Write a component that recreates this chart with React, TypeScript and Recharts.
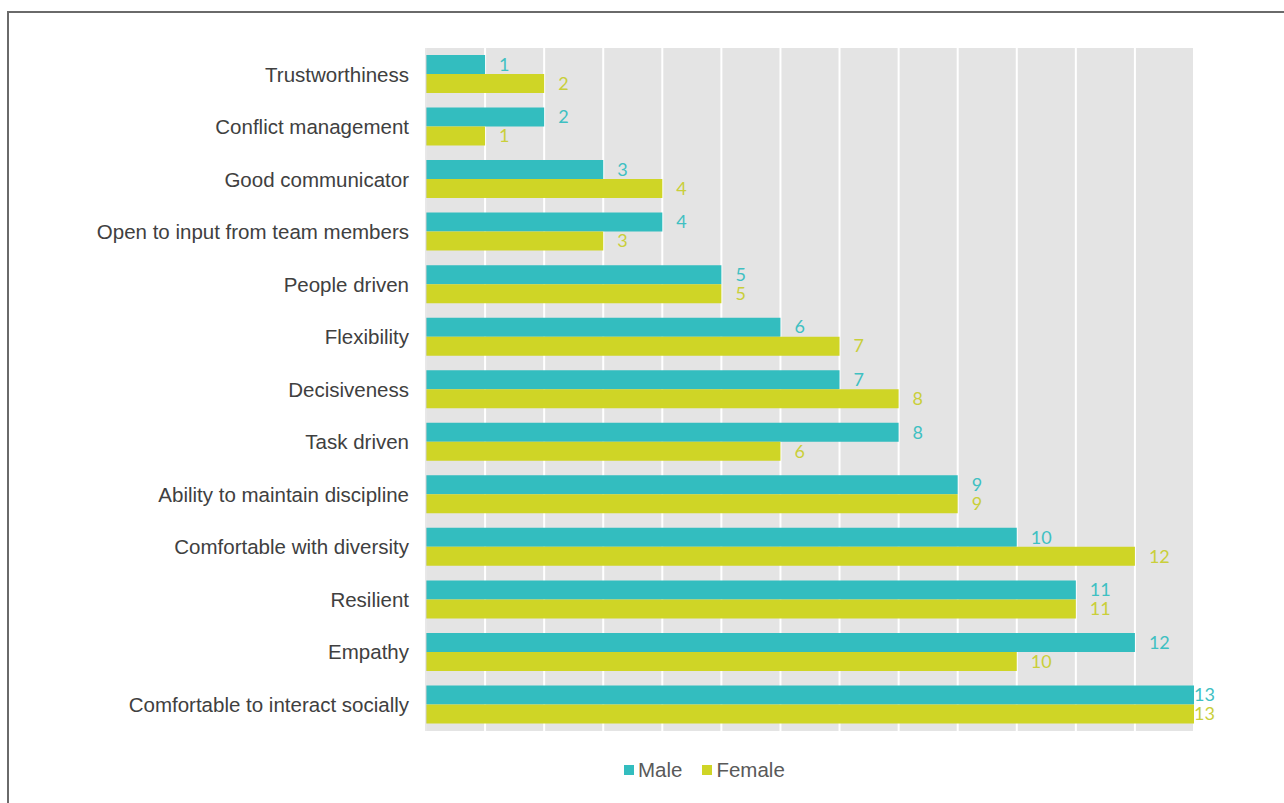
import React from "react";
import {
  BarChart,
  Bar,
  XAxis,
  YAxis,
  CartesianGrid,
  Legend,
  LabelList,
} from "recharts";

const traits = [
  "Trustworthiness",
  "Conflict management",
  "Good communicator",
  "Open to input from team members",
  "People driven ",
  "Flexibility",
  "Decisiveness",
  "Task driven ",
  "Ability to maintain discipline",
  "Comfortable with diversity",
  "Resilient",
  "Empathy",
  "Comfortable to interact socially",
];
const maleCounts = [1, 2, 3, 4, 5, 6, 7, 8, 9, 10, 11, 12, 13];
const femaleCounts = [2, 1, 4, 3, 5, 7, 8, 6, 9, 12, 11, 10, 13];
const xTicks = [0, 1, 2, 3, 4, 5, 6, 7, 8, 9, 10, 11, 12, 13];
const xMax = 13;

const MALE = "#33bdbf";
const FEMALE = "#cfd526";

const data = traits.map((name, i) => ({
  name,
  Male: maleCounts[i],
  Female: femaleCounts[i],
}));

// value label to the right of each bar; the longest bars sit flush with the edge
const valueLabel = (color: string) => (props: any) => {
  const { x, y, width, height, value } = props;
  const gap = value >= xMax ? 0 : 14;
  return (
    <text
      x={Number(x) + Number(width) + gap}
      y={Number(y) + Number(height) / 2}
      dy="0.35em"
      fill={color}
      fontFamily="Lato, 'Open Sans', sans-serif"
      fontSize={18}
    >
      {value}
    </text>
  );
};

const renderLegend = () => (
  <div
    style={{
      display: "flex",
      alignItems: "center",
      fontFamily: "'Liberation Sans', Arial, sans-serif",
      fontSize: 20.5,
      color: "#595959",
      lineHeight: "24px",
    }}
  >
    {[
      { label: "Male", color: MALE },
      { label: "Female", color: FEMALE },
    ].map((item) => (
      <span
        key={item.label}
        style={{ display: "flex", alignItems: "center", marginRight: 20 }}
      >
        <span
          style={{
            display: "inline-block",
            width: 10,
            height: 10,
            background: item.color,
            marginRight: 4,
          }}
        />
        {item.label}
      </span>
    ))}
  </div>
);

// white vertical grid lines at every whole unit of the count axis
const gridColumns = ({ offset }: any) =>
  xTicks.map((t) => offset.left + (t / xMax) * offset.width);

export default function App() {
  return (
    <div
      style={{
        position: "absolute",
        left: 0,
        top: 0,
        width: 1284,
        height: 803,
        overflow: "hidden",
        background: "#fff",
      }}
    >
      <div
        style={{
          position: "absolute",
          left: 7,
          top: 11,
          width: 1320,
          height: 840,
          borderTop: "2px solid #6a6a6a",
          borderLeft: "2px solid #6a6a6a",
        }}
      />
      <div style={{ position: "absolute", left: 0, top: 0 }}>
        <BarChart
          width={1284}
          height={803}
          data={data}
          layout="vertical"
          margin={{ top: 48, right: 90, bottom: 48, left: 0 }}
          barCategoryGap={7}
          barGap={0}
        >
          <CartesianGrid
            horizontal={false}
            fill="#e4e4e4"
            stroke="#ffffff"
            strokeWidth={2}
            verticalCoordinatesGenerator={gridColumns}
          />
          <XAxis
            type="number"
            domain={[0, xMax]}
            ticks={xTicks}
            tick={false}
            tickLine={false}
            axisLine={false}
            height={0}
          />
          <YAxis
            type="category"
            dataKey="name"
            width={426}
            tickLine={false}
            tickSize={6}
            tickMargin={11}
            axisLine={{ stroke: "#d0d0d0" }}
            tick={{
              fill: "#404040",
              fontSize: 20.5,
              fontFamily: "'Liberation Sans', Arial, sans-serif",
            }}
            interval={0}
          />
          <Legend
            content={renderLegend}
            wrapperStyle={{ left: 624, top: 758, width: "auto" }}
          />
          <Bar dataKey="Male" fill={MALE} isAnimationActive={false}>
            <LabelList dataKey="Male" content={valueLabel("#3fc0c2")} />
          </Bar>
          <Bar dataKey="Female" fill={FEMALE} isAnimationActive={false}>
            <LabelList dataKey="Female" content={valueLabel("#c9cf3a")} />
          </Bar>
        </BarChart>
      </div>
    </div>
  );
}
